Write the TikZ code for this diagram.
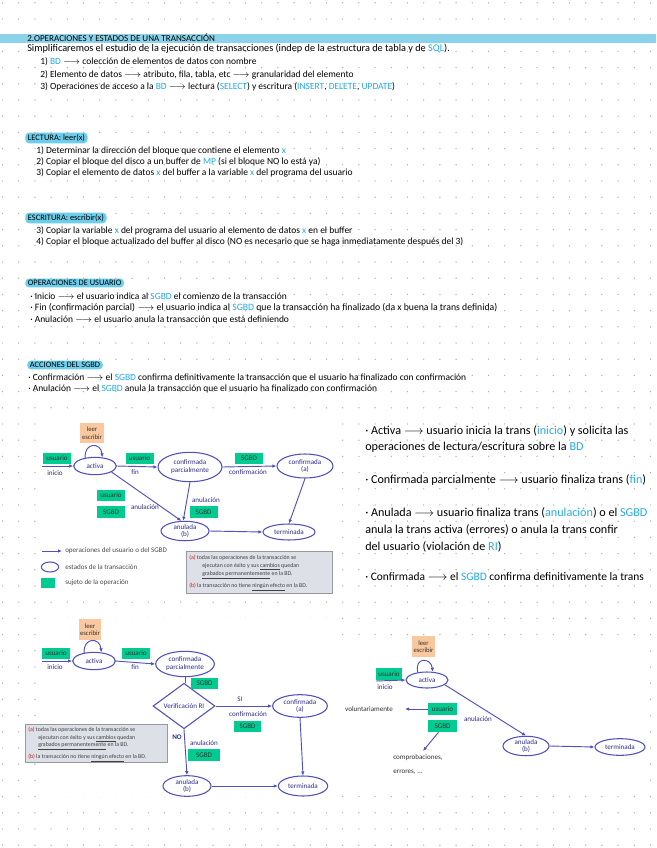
\documentclass[tikz,border=0pt]{standalone}
\usepackage{fontspec}
\setmainfont{Carlito}
\usetikzlibrary{shapes.geometric,arrows.meta}
\definecolor{barc}{RGB}{140,210,232}
\definecolor{hlc}{RGB}{110,205,234}
\definecolor{kwb}{RGB}{38,170,228}
\definecolor{stc}{RGB}{80,80,190}
\definecolor{stt}{RGB}{45,45,135}
\definecolor{grn}{RGB}{0,204,145}
\definecolor{peach}{RGB}{250,200,158}
\definecolor{boxc}{RGB}{221,224,231}
\definecolor{boxd}{RGB}{150,152,162}
\definecolor{redc}{RGB}{200,30,30}
\definecolor{dotc}{RGB}{175,175,175}
\newcommand\kwd[1]{\textcolor{kwb}{#1}}
\newcommand\harr{$\longrightarrow$}
\begin{document}
\begin{tikzpicture}[x=0.75pt,y=-0.75pt,
  hw/.style={anchor=west, inner sep=0pt, font=\fontsize{7.1}{8}\selectfont, text=black},
  hwr/.style={anchor=west, inner sep=0pt, font=\fontsize{9.1}{10}\selectfont, text=black},
  head/.style={anchor=west, fill=hlc, rounded corners=3pt, inner xsep=2pt, inner ysep=1.3pt, font=\fontsize{6.3}{7}\selectfont},
  st/.style={ellipse, draw=stc, line width=0.8pt, inner sep=0pt, align=center, text=stt, font=\fontsize{5.3}{5.9}\selectfont, fill=white},
  gb/.style={fill=grn, inner sep=0pt, minimum width=21pt, minimum height=8.3pt, font=\fontsize{5.3}{6}\selectfont, text=black!80},
  ob/.style={fill=peach, inner sep=0pt, minimum width=18pt, minimum height=15pt, align=center, font=\fontsize{5}{5.6}\selectfont, text=black!80},
  lab/.style={inner sep=0pt, font=\fontsize{5.3}{6}\selectfont, text=stt},
  arr/.style={draw=stc, line width=0.7pt, -{Latex[length=3pt,width=2.6pt]}},
  ln/.style={draw=stc, line width=0.7pt},
  nbox/.style={fill=boxc, draw=boxd, line width=0.6pt, inner sep=0pt},
  note/.style={anchor=west, inner sep=0pt, font=\fontsize{4.4}{5}\selectfont, text=black!75},
  leg/.style={anchor=west, inner sep=0pt, font=\fontsize{5.3}{6}\selectfont, text=black!70}]
\useasboundingbox (0,0) rectangle (656,848);
\fill[white] (0,0) rectangle (656,848);
\foreach \i in {0,...,40} \foreach \j in {0,...,52}
  \fill[dotc] (2.5+16.2*\i, 2.8+16.2*\j) circle[radius=0.55pt];
% white backgrounds of pasted diagrams
\fill[white] (37,416) rectangle (334,597);
\fill[white] (37,618) rectangle (334,797);
\fill[white] (340,638) rectangle (648,786);

% title
\fill[barc] (0,34.5) rectangle (656,43);
\node[anchor=west, inner sep=0pt, font=\fontsize{6.8}{7}\selectfont] (title) at (27,38) {2.OPERACIONES Y ESTADOS DE UNA TRANSACCIÓN};
\node[hw, font=\fontsize{7.7}{8}\selectfont] (t1) at (27,49) {Simplificaremos el estudio de la ejecución de transacciones (indep de la estructura de tabla y de \kwd{SQL}).};
\node[hw] (t2) at (40,62) {1) \kwd{BD} \harr\ colección de elementos de datos con nombre};
\node[hw] (t3) at (40,75) {2) Elemento de datos \harr\ atributo, fila, tabla, etc \harr\ granularidad del elemento};
\node[hw] (t4) at (40,87) {3) Operaciones de acceso a la \kwd{BD} \harr\ lectura (\kwd{SELECT}) y escritura (\kwd{INSERT}, \kwd{DELETE}, \kwd{UPDATE})};

\node[head] (h1) at (25,138) {LECTURA: leer(x)};
\node[hw] (t5) at (36,151) {1) Determinar la dirección del bloque que contiene el elemento \kwd{x}};
\node[hw] (t6) at (36,162) {2) Copiar el bloque del disco a un buffer de \kwd{MP} (si el bloque NO lo está ya)};
\node[hw] (t7) at (36,173) {3) Copiar el elemento de datos \kwd{x} del buffer a la variable \kwd{x} del programa del usuario};

\node[head] (h2) at (25,218) {ESCRITURA: escribir(x)};
\node[hw] (t8) at (36,231) {3) Copiar la variable \kwd{x} del programa del usuario al elemento de datos \kwd{x} en el buffer};
\node[hw] (t9) at (36,242) {4) Copiar el bloque actualizado del buffer al disco (NO es necesario que se haga inmediatamente después del 3)};

\node[head] (h3) at (25,283) {OPERACIONES DE USUARIO};
\node[hw] (t10) at (30,296.5) {· Inicio \harr\ el usuario indica al \kwd{SGBD} el comienzo de la transacción};
\node[hw, font=\fontsize{7.3}{8}\selectfont] (t11) at (30,308) {· Fin (confirmación parcial) \harr\ el usuario indica al \kwd{SGBD} que la transacción ha finalizado (da x buena la trans definida)};
\node[hw] (t12) at (30,319.5) {· Anulación \harr\ el usuario anula la transacción que está definiendo};

\node[head] (h4) at (27,365) {ACCIONES DEL SGBD};
\node[hw] (t13) at (28,378) {· Confirmación \harr\ el \kwd{SGBD} confirma definitivamente la transacción que el usuario ha finalizado con confirmación};
\node[hw] (t14) at (28,389) {· Anulación \harr\ el \kwd{SGBD} anula la transacción que el usuario ha finalizado con confirmación};

% right text
\node[hwr] (r1) at (365,431) {· Activa \harr\ usuario inicia la trans (\kwd{inicio}) y solicita las};
\node[hwr] (r2) at (365,447) {operaciones de lectura/escritura sobre la \kwd{BD}};
\node[hwr] (r3) at (365,480) {· Confirmada parcialmente \harr\ usuario finaliza trans (\kwd{fin})};
\node[hwr] (r4) at (365,513) {· Anulada \harr\ usuario finaliza trans (\kwd{anulación}) o el \kwd{SGBD}};
\node[hwr] (r5) at (365,530) {anula la trans activa (errores) o anula la trans confir};
\node[hwr] (r6) at (365,547) {del usuario (violación de \kwd{RI})};
\node[hwr, font=\fontsize{8.6}{10}\selectfont] (r7) at (365,577) {· Confirmada \harr\ el \kwd{SGBD} confirma definitivamente la trans};

% ---------------- diagram 1
\node[st, minimum width=32pt, minimum height=13pt] (act1) at (95,466) {activa};
\node[st, minimum width=48pt, minimum height=22pt] (cp1) at (190,467) {confirmada\\parcialmente};
\node[st, minimum width=42pt, minimum height=18pt] (ca1) at (305,466) {confirmada\\(a)};
\node[st, minimum width=36pt, minimum height=14.5pt] (an1) at (185,531) {anulada\\(b)};
\node[st, minimum width=39pt, minimum height=12pt] (te1) at (289,532) {terminada};
\node[ob] (le1) at (92,433) {leer\\escribir};
\node[gb] (us1a) at (57,458.5) {usuario};
\node[lab] (in1) at (55,473) {inicio};
\node[gb] (us1b) at (139.5,458.5) {usuario};
\node[lab] (fi1) at (135,472) {fin};
\node[gb] (sg1a) at (249,458.5) {SGBD};
\node[lab] (co1) at (248,472) {confirmación};
\node[gb] (us1c) at (111,495.5) {usuario};
\node[gb] (sg1c) at (111,512) {SGBD};
\node[lab] (al1) at (145,507) {anulación};
\node[lab] (al1b) at (206,500) {anulación};
\node[gb] (sg1d) at (203.5,512) {SGBD};
\coordinate (s1) at (42,466);
\draw[arr] (s1) -- (act1.west);
\draw[arr] (act1.east) -- (cp1.west);
\draw[arr] (cp1.east) -- (ca1.west);
\draw[arr] (act1.-20) -- (an1.110);
\draw[arr] (cp1.south) -- (an1.100);
\draw[arr] (ca1.south) -- (te1.north);
\draw[arr] (an1.east) -- (te1.west);
\draw[arr] (act1.140) .. controls (84,442) and (101,442) .. (act1.50);
% legend
\coordinate (lg1) at (42,551);
\coordinate (lg2) at (62,551);
\draw[arr] (lg1) -- (lg2);
\node[leg] (lt1) at (65,551) {operaciones del usuario o del SGBD};
\node[ellipse, draw=stc, line width=0.8pt, minimum width=13pt, minimum height=7.5pt, inner sep=0pt] (le) at (50,567) {};
\node[leg] (lt2) at (65,567) {estados de la transacción};
\node[fill=grn, minimum width=10.5pt, minimum height=7.5pt, inner sep=0pt] (lgb) at (48,583) {};
\node[leg] (lt3) at (65,583) {sujeto de la operación};
% note 1
\node[nbox, minimum width=109.5pt, minimum height=31pt] (nb1) at (259,572.5) {};
\node[note] (n1a) at (189,558) {\textcolor{redc}{(a)} todas las operaciones de la transacción se};
\node[note] (n1b) at (202,566.5) {ejecutan con éxito y sus \underline{cambios} quedan};
\node[note] (n1c) at (202,575) {\underline{grabados permanentemente} en la BD.};
\node[note] (n1d) at (189,587) {\textcolor{redc}{(b)} la transacción no tiene \underline{ningún efecto} en la BD.};

% ---------------- diagram 2
\node[st, minimum width=32pt, minimum height=13pt] (act2) at (94,661) {activa};
\node[st, minimum width=44pt, minimum height=19pt] (cp2) at (185,664) {confirmada\\parcialmente};
\node[diamond, draw=stc, line width=0.8pt, fill=white, inner sep=0pt, minimum width=46.5pt, minimum height=19.5pt, text=stt, font=\fontsize{5.3}{5.9}\selectfont] (di2) at (184,706) {Verificación RI};
\node[st, minimum width=41pt, minimum height=17pt] (ca2) at (300,706) {confirmada\\(a)};
\node[st, minimum width=36pt, minimum height=15.5pt] (an2) at (187,786) {anulada\\(b)};
\node[st, minimum width=37pt, minimum height=15pt] (te2) at (303,786) {terminada};
\node[ob, minimum width=16.5pt, minimum height=15.5pt] (le2) at (90,629.5) {leer\\escribir};
\node[gb] (us2a) at (56,653.5) {usuario};
\node[lab] (in2) at (55,667) {inicio};
\node[gb] (us2b) at (136,653.5) {usuario};
\node[lab] (fi2) at (135,667) {fin};
\node[gb, minimum width=20pt] (sg2a) at (204.5,683.5) {SGBD};
\node[lab] (si2) at (240,699) {SI};
\node[lab] (co2) at (248,714) {confirmación};
\node[gb, minimum width=20pt] (sg2b) at (247.5,726.5) {SGBD};
\node[lab, font=\bfseries\fontsize{5.3}{6}\selectfont] (no2) at (177,737) {NO};
\node[lab] (al2) at (204,743) {anulación};
\node[gb, minimum width=24pt, minimum height=9pt] (sg2c) at (204,755) {SGBD};
\coordinate (s2) at (42,661);
\draw[arr] (s2) -- (act2.west);
\draw[arr] (act2.east) -- (cp2.west);
\draw[ln] (cp2.south) -- (cp2.south |- di2.north);
\draw[arr] (di2.east) -- (ca2.west);
\draw[arr] (di2.south) -- (an2.north);
\draw[arr] (an2.east) -- (te2.west);
\draw[arr] (ca2.south) -- (te2.north);
\draw[arr] (act2.140) .. controls (83,637) and (100,637) .. (act2.50);
% note 2
\node[nbox, minimum width=106.5pt, minimum height=29pt] (nb2) at (96,743.5) {};
\node[note] (n2a) at (28,730) {\textcolor{redc}{(a)} todas las operaciones de la transacción se};
\node[note] (n2b) at (38,738.5) {ejecutan con éxito y sus \underline{cambios} quedan};
\node[note] (n2c) at (38,746.5) {\underline{grabados permanentemente} en la BD.};
\node[note] (n2d) at (28,758) {\textcolor{redc}{(b)} la transacción no tiene \underline{ningún efecto} en la BD.};

% ---------------- diagram 3
\node[st, minimum width=31.5pt, minimum height=12pt] (act3) at (427,680) {activa};
\node[st, minimum width=34.5pt, minimum height=14pt] (an3) at (526,746) {anulada\\(b)};
\node[st, minimum width=37.5pt, minimum height=12.5pt] (te3) at (620,747) {terminada};
\node[ob, minimum width=17pt, minimum height=15.5pt] (le3) at (423.5,646.5) {leer\\escribir};
\node[gb, minimum width=19.5pt, minimum height=9pt] (us3a) at (389,674) {usuario};
\node[lab] (in3) at (385,687) {inicio};
\node[gb, minimum width=22pt, minimum height=9pt] (us3b) at (442.5,709) {usuario};
\node[gb, minimum width=22pt, minimum height=9pt] (sg3) at (442.5,726) {SGBD};
\node[lab, text=black!80] (vo3) at (369,709) {voluntariamente};
\node[lab] (al3) at (478,719) {anulación};
\node[lab, anchor=west, text=black!80] (cb3) at (393,758) {comprobaciones,};
\node[lab, anchor=west, text=black!80] (er3) at (393,772) {errores, ...};
\coordinate (s3) at (376,681);
\coordinate (v3) at (405,709);
\coordinate (c3) at (423,751);
\draw[arr] (s3) -- (act3.west);
\draw[arr] (us3b.west) -- (v3);
\draw[arr] (sg3.south) ++(-4,0) -- (c3);
\draw[arr] (act3.-15) -- (an3.north);
\draw[arr] (an3.east) -- (te3.west);
\draw[arr] (act3.140) .. controls (414,657) and (431,657) .. (act3.55);
\end{tikzpicture}
\end{document}
